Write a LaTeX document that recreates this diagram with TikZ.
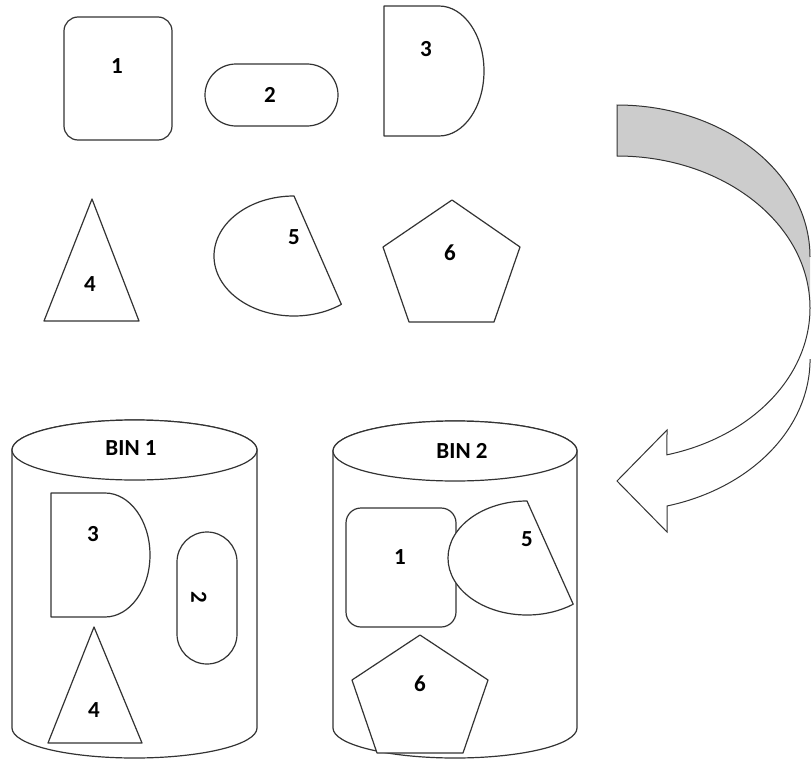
\documentclass[tikz,border=0pt]{standalone}
\usepackage{fontspec}
\setmainfont{Carlito}
\begin{document}
\begin{tikzpicture}[x=1pt,y=1pt,
  shp/.style={draw=black!80, line width=1.2pt, fill=white, line join=round},
  arrline/.style={draw=black!80, line width=1pt, line join=miter},
  lbl/.style={font=\bfseries\fontsize{23}{27}\selectfont, inner sep=0pt, text=black}]
\useasboundingbox (0,0) rectangle (811,-760);

% ---------- loose shapes (top) ----------
\draw[shp, rounded corners=14pt] (64,-17) rectangle (172,-140);
\node[lbl] (t1) at (117,-66) {1};
\draw[shp, rounded corners=31pt] (205,-64) rectangle (338,-126);
\node[lbl] (t2) at (270,-95) {2};
\draw[shp] (384,-6) -- (439,-6) arc[start angle=90,end angle=-90,x radius=45pt,y radius=65pt] -- (384,-136) -- cycle;
\node[lbl] (t3) at (426,-49) {3};
\draw[shp] (92,-199) -- (139,-321) -- (44,-321) -- cycle;
\node[lbl] (t4) at (90,-284) {4};
\draw[shp] (294,-196) arc[start angle=90,end angle=306.3,x radius=80pt,y radius=60pt] -- cycle;
\node[lbl] (t5) at (294,-237) {5};
\draw[shp] (452,-200) -- (520,-247) -- (494,-322) -- (409,-322) -- (383,-247) -- cycle;
\node[lbl] (t6) at (450,-253) {6};

% ---------- curved arrow ----------
\fill[gray!40] (617,-105) arc[start angle=90,end angle=0,x radius=193pt,y radius=152pt]
  -- (810,-308) arc[start angle=0,end angle=90,x radius=193pt,y radius=152pt] -- cycle;
\draw[arrline] (810,-257) arc[start angle=0,end angle=90,x radius=193pt,y radius=152pt]
  -- (617,-156) arc[start angle=90,end angle=0,x radius=193pt,y radius=152pt];
\fill[white] (810,-308) arc[start angle=0,end angle=-75,x radius=193pt,y radius=152pt]
  -- (667,-430) -- (617,-481) -- (667,-532) -- (667,-506)
  arc[start angle=-75,end angle=0,x radius=193pt,y radius=152pt] -- cycle;
\draw[arrline] (810,-308) arc[start angle=0,end angle=-75,x radius=193pt,y radius=152pt]
  -- (667,-430) -- (617,-481) -- (667,-532) -- (667,-506)
  arc[start angle=-75,end angle=0,x radius=193pt,y radius=152pt];

% ---------- BIN 1 ----------
\draw[shp] (12,-450) -- (12,-728) arc[start angle=180,end angle=360,x radius=122.5pt,y radius=30pt]
  -- (257,-450) arc[start angle=0,end angle=180,x radius=122.5pt,y radius=30pt] -- cycle;
\draw[shp] (134.5,-450) ellipse[x radius=122.5pt,y radius=30pt];
\node[lbl] (bin1) at (131,-448) {BIN 1};
\draw[shp] (51,-493) -- (105,-493) arc[start angle=90,end angle=-90,x radius=45pt,y radius=62pt] -- (51,-617) -- cycle;
\node[lbl] (b3) at (93,-534) {3};
\draw[shp, rounded corners=30pt] (177,-532) rectangle (237,-664);
\node[lbl, rotate=-90] (b2) at (199,-597) {2};
\draw[shp] (94,-627) -- (142,-743) -- (48,-743) -- cycle;
\node[lbl] (b4) at (94,-710) {4};

% ---------- BIN 2 ----------
\draw[shp] (333,-451) -- (333,-728) arc[start angle=180,end angle=360,x radius=122pt,y radius=30pt]
  -- (577,-451) arc[start angle=0,end angle=180,x radius=122pt,y radius=30pt] -- cycle;
\draw[shp] (455,-451) ellipse[x radius=122pt,y radius=30pt];
\node[lbl] (bin2) at (462,-451) {BIN 2};
\draw[shp, rounded corners=15pt] (346,-508) rectangle (456,-627);
\node[lbl] (c1) at (400,-557) {1};
\draw[shp] (527,-501) arc[start angle=90,end angle=305.8,x radius=79pt,y radius=57pt] -- cycle;
\node[lbl] (c5) at (527,-539) {5};
\draw[shp] (420,-635) -- (488,-680) -- (463,-753) -- (377,-753) -- (352,-680) -- cycle;
\node[lbl] (c6) at (420,-684) {6};
\end{tikzpicture}
\end{document}
